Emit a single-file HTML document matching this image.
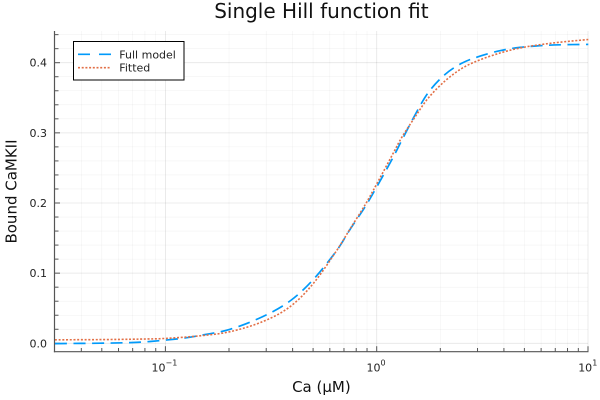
<!DOCTYPE html>
<html><head><meta charset="utf-8"><style>
html,body{margin:0;padding:0;background:#fff;}
svg{display:block;font-family:"DejaVu Sans","Liberation Sans",sans-serif;}
</style></head><body>
<svg width="600" height="400" viewBox="0 0 600 400" xmlns="http://www.w3.org/2000/svg">
<rect width="600" height="400" fill="#fff"/>
<defs><clipPath id="c"><rect x="54.5" y="31" width="534" height="321"/></clipPath></defs>
<!-- minor grid -->
<g stroke="#000" stroke-opacity="0.05" stroke-width="0.6">
<line x1="81.32" y1="31" x2="81.32" y2="351.7"/><line x1="101.79" y1="31" x2="101.79" y2="351.7"/><line x1="118.52" y1="31" x2="118.52" y2="351.7"/><line x1="132.67" y1="31" x2="132.67" y2="351.7"/><line x1="144.92" y1="31" x2="144.92" y2="351.7"/><line x1="155.73" y1="31" x2="155.73" y2="351.7"/>
<line x1="229.01" y1="31" x2="229.01" y2="351.7"/><line x1="266.22" y1="31" x2="266.22" y2="351.7"/><line x1="292.62" y1="31" x2="292.62" y2="351.7"/><line x1="313.09" y1="31" x2="313.09" y2="351.7"/><line x1="329.82" y1="31" x2="329.82" y2="351.7"/><line x1="343.97" y1="31" x2="343.97" y2="351.7"/><line x1="356.22" y1="31" x2="356.22" y2="351.7"/><line x1="367.03" y1="31" x2="367.03" y2="351.7"/>
<line x1="440.31" y1="31" x2="440.31" y2="351.7"/><line x1="477.52" y1="31" x2="477.52" y2="351.7"/><line x1="503.92" y1="31" x2="503.92" y2="351.7"/><line x1="524.39" y1="31" x2="524.39" y2="351.7"/><line x1="541.12" y1="31" x2="541.12" y2="351.7"/><line x1="555.27" y1="31" x2="555.27" y2="351.7"/><line x1="567.52" y1="31" x2="567.52" y2="351.7"/><line x1="578.33" y1="31" x2="578.33" y2="351.7"/>
<line x1="54.5" y1="329.27" x2="588" y2="329.27"/><line x1="54.5" y1="315.24" x2="588" y2="315.24"/><line x1="54.5" y1="301.21" x2="588" y2="301.21"/><line x1="54.5" y1="287.18" x2="588" y2="287.18"/>
<line x1="54.5" y1="259.12" x2="588" y2="259.12"/><line x1="54.5" y1="245.09" x2="588" y2="245.09"/><line x1="54.5" y1="231.06" x2="588" y2="231.06"/><line x1="54.5" y1="217.03" x2="588" y2="217.03"/>
<line x1="54.5" y1="188.97" x2="588" y2="188.97"/><line x1="54.5" y1="174.94" x2="588" y2="174.94"/><line x1="54.5" y1="160.91" x2="588" y2="160.91"/><line x1="54.5" y1="146.88" x2="588" y2="146.88"/>
<line x1="54.5" y1="118.82" x2="588" y2="118.82"/><line x1="54.5" y1="104.79" x2="588" y2="104.79"/><line x1="54.5" y1="90.76" x2="588" y2="90.76"/><line x1="54.5" y1="76.73" x2="588" y2="76.73"/>
<line x1="54.5" y1="48.67" x2="588" y2="48.67"/><line x1="54.5" y1="34.64" x2="588" y2="34.64"/>
</g>
<!-- major grid -->
<g stroke="#000" stroke-opacity="0.1" stroke-width="0.8">
<line x1="165.4" y1="31" x2="165.4" y2="351.7"/><line x1="376.7" y1="31" x2="376.7" y2="351.7"/><line x1="588" y1="31" x2="588" y2="351.7"/>
<line x1="54.5" y1="343.3" x2="588" y2="343.3"/><line x1="54.5" y1="273.15" x2="588" y2="273.15"/><line x1="54.5" y1="203" x2="588" y2="203"/><line x1="54.5" y1="132.85" x2="588" y2="132.85"/><line x1="54.5" y1="62.7" x2="588" y2="62.7"/>
</g>
<!-- axes -->
<g stroke="#555" stroke-width="1.2">
<line x1="54.5" y1="31" x2="54.5" y2="352.3"/>
<line x1="53.9" y1="351.7" x2="588.5" y2="351.7"/>
</g>
<!-- y ticks -->
<g stroke="#555" stroke-width="1">
<line x1="54.5" y1="343.3" x2="60" y2="343.3"/><line x1="54.5" y1="273.15" x2="60" y2="273.15"/><line x1="54.5" y1="203" x2="60" y2="203"/><line x1="54.5" y1="132.85" x2="60" y2="132.85"/><line x1="54.5" y1="62.7" x2="60" y2="62.7"/>
<line x1="54.5" y1="329.27" x2="58.5" y2="329.27"/><line x1="54.5" y1="315.24" x2="58.5" y2="315.24"/><line x1="54.5" y1="301.21" x2="58.5" y2="301.21"/><line x1="54.5" y1="287.18" x2="58.5" y2="287.18"/>
<line x1="54.5" y1="259.12" x2="58.5" y2="259.12"/><line x1="54.5" y1="245.09" x2="58.5" y2="245.09"/><line x1="54.5" y1="231.06" x2="58.5" y2="231.06"/><line x1="54.5" y1="217.03" x2="58.5" y2="217.03"/>
<line x1="54.5" y1="188.97" x2="58.5" y2="188.97"/><line x1="54.5" y1="174.94" x2="58.5" y2="174.94"/><line x1="54.5" y1="160.91" x2="58.5" y2="160.91"/><line x1="54.5" y1="146.88" x2="58.5" y2="146.88"/>
<line x1="54.5" y1="118.82" x2="58.5" y2="118.82"/><line x1="54.5" y1="104.79" x2="58.5" y2="104.79"/><line x1="54.5" y1="90.76" x2="58.5" y2="90.76"/><line x1="54.5" y1="76.73" x2="58.5" y2="76.73"/>
<line x1="54.5" y1="48.67" x2="58.5" y2="48.67"/><line x1="54.5" y1="34.64" x2="58.5" y2="34.64"/>
</g>
<!-- x ticks -->
<g stroke="#555" stroke-width="1">
<line x1="165.4" y1="351.7" x2="165.4" y2="346.2"/><line x1="376.7" y1="351.7" x2="376.7" y2="346.2"/><line x1="588" y1="351.7" x2="588" y2="346.2"/>
<line x1="81.32" y1="351.7" x2="81.32" y2="348"/><line x1="101.79" y1="351.7" x2="101.79" y2="348"/><line x1="118.52" y1="351.7" x2="118.52" y2="348"/><line x1="132.67" y1="351.7" x2="132.67" y2="348"/><line x1="144.92" y1="351.7" x2="144.92" y2="348"/><line x1="155.73" y1="351.7" x2="155.73" y2="348"/>
<line x1="229.01" y1="351.7" x2="229.01" y2="348"/><line x1="266.22" y1="351.7" x2="266.22" y2="348"/><line x1="292.62" y1="351.7" x2="292.62" y2="348"/><line x1="313.09" y1="351.7" x2="313.09" y2="348"/><line x1="329.82" y1="351.7" x2="329.82" y2="348"/><line x1="343.97" y1="351.7" x2="343.97" y2="348"/><line x1="356.22" y1="351.7" x2="356.22" y2="348"/><line x1="367.03" y1="351.7" x2="367.03" y2="348"/>
<line x1="440.31" y1="351.7" x2="440.31" y2="348"/><line x1="477.52" y1="351.7" x2="477.52" y2="348"/><line x1="503.92" y1="351.7" x2="503.92" y2="348"/><line x1="524.39" y1="351.7" x2="524.39" y2="348"/><line x1="541.12" y1="351.7" x2="541.12" y2="348"/><line x1="555.27" y1="351.7" x2="555.27" y2="348"/><line x1="567.52" y1="351.7" x2="567.52" y2="348"/><line x1="578.33" y1="351.7" x2="578.33" y2="348"/>
</g>
<!-- tick labels -->
<g font-size="11" fill="#222" text-anchor="end">
<text x="47" y="347.3">0.0</text>
<text x="47" y="277.2">0.1</text>
<text x="47" y="207">0.2</text>
<text x="47" y="136.9">0.3</text>
<text x="47" y="66.7">0.4</text>
</g>
<g font-size="11" fill="#222">
<text x="151.5" y="371.7">10<tspan font-size="8" dy="-6">−1</tspan></text>
<text x="366.5" y="371.7">10<tspan font-size="8" dy="-6">0</tspan></text>
<text x="578.2" y="371.7">10<tspan font-size="8" dy="-6">1</tspan></text>
</g>
<!-- curves -->
<g clip-path="url(#c)" fill="none" stroke-linejoin="round">
<polyline id="blue" stroke="#009AFA" stroke-width="1.7" stroke-dasharray="12 6.5" points="55,343.6 100,343.2 130,342.6 150,341.5 180,338.6 200,335.5 230,329.3 263,316.5 290,301 313.3,279.5 336.7,250.5 350,229.5 365,207 376.7,187 393.3,157 401.7,140.5 415,115 428.3,92.5 445,74.5 461.7,63.3 478.3,56.7 500,50.7 520,47.4 540,45.7 560,44.8 588.3,44.4"/>
<polyline id="orange" stroke="#E26F46" stroke-width="1.6" stroke-dasharray="2 1.7" points="55,339.8 100,339.6 140,339.1 166,338.4 200,335.8 230,331.7 263,321.5 290,306.7 313.3,283.5 336.7,250.5 350,229 365,205 376.7,184 393.3,153 401.7,137.5 415,117 428.3,98 445,81 461.7,68.5 478.3,60.5 500,53 520,48 540,44.7 560,42.2 588.3,39.5"/>
</g>
<!-- legend -->
<rect x="73.5" y="41.5" width="110.5" height="38.5" fill="#fff" stroke="#000" stroke-width="1"/>
<line x1="78" y1="54.3" x2="111" y2="54.3" stroke="#009AFA" stroke-width="1.7" stroke-dasharray="12 9"/>
<line x1="78" y1="67.7" x2="111" y2="67.7" stroke="#E26F46" stroke-width="1.6" stroke-dasharray="2 1.7"/>
<g font-size="11" fill="#222">
<text x="119.3" y="58.3">Full model</text>
<text x="119.3" y="71.7">Fitted</text>
</g>
<!-- titles -->
<text x="321.4" y="18" font-size="20" text-anchor="middle" fill="#111">Single Hill function fit</text>
<text x="321.4" y="392" font-size="15" text-anchor="middle" fill="#111">Ca (μM)</text>
<text transform="translate(16.5,191.5) rotate(-90)" font-size="15" text-anchor="middle" fill="#111">Bound CaMKII</text>
</svg>
<script>
(function(){
  var ns="http://www.w3.org/2000/svg";
  ["blue","orange"].forEach(function(id){
    var pl=document.getElementById(id);
    if(!pl) return;
    var pts=pl.getAttribute("points").trim().split(/\s+/).map(function(s){var a=s.split(",");return [parseFloat(a[0]),parseFloat(a[1])];});
    var d="M"+pts[0][0]+","+pts[0][1];
    for(var i=0;i<pts.length-1;i++){
      var p0=pts[Math.max(0,i-1)],p1=pts[i],p2=pts[i+1],p3=pts[Math.min(pts.length-1,i+2)];
      var c1x=p1[0]+(p2[0]-p0[0])/6,c1y=p1[1]+(p2[1]-p0[1])/6;
      var c2x=p2[0]-(p3[0]-p1[0])/6,c2y=p2[1]-(p3[1]-p1[1])/6;
      d+=" C"+c1x.toFixed(2)+","+c1y.toFixed(2)+" "+c2x.toFixed(2)+","+c2y.toFixed(2)+" "+p2[0]+","+p2[1];
    }
    var p=document.createElementNS(ns,"path");
    ["stroke","stroke-width","stroke-dasharray","fill","stroke-linejoin"].forEach(function(a){var v=pl.getAttribute(a);if(v)p.setAttribute(a,v);});
    p.setAttribute("d",d);
    pl.parentNode.replaceChild(p,pl);
  });
})();
</script>
</body></html>
